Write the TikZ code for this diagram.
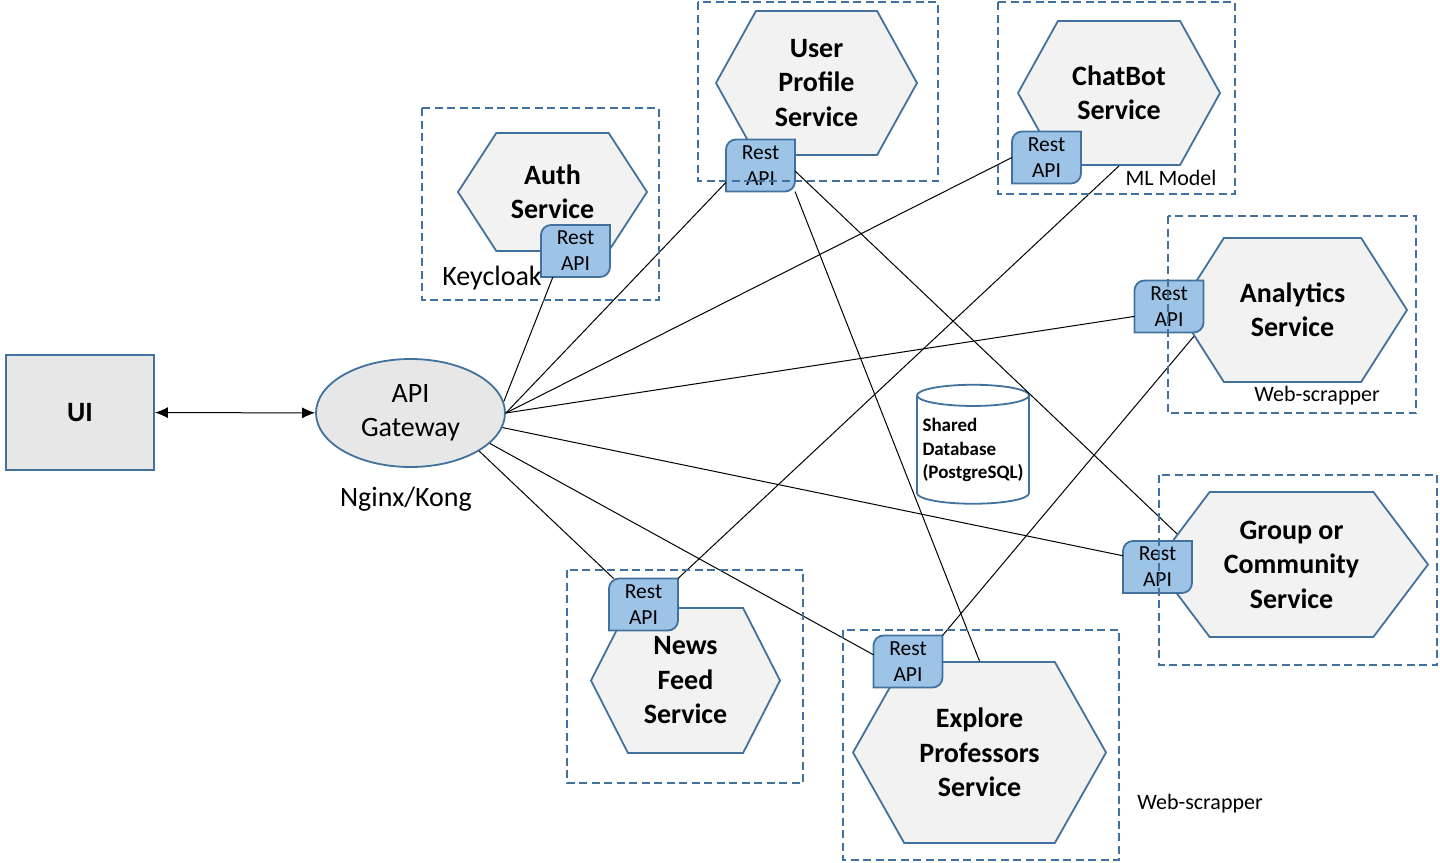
\documentclass[tikz,border=0pt]{standalone}
\usepackage{fontspec}
\setmainfont{Carlito}
\usetikzlibrary{arrows.meta,positioning,shapes.geometric,shapes.symbols}

\definecolor{edgeblue}{RGB}{65,113,156}
\definecolor{hexgray}{RGB}{242,242,242}
\definecolor{boxgray}{RGB}{231,231,231}
\definecolor{apiblue}{RGB}{157,195,230}

% Rest API tab: name, x, y (two rounded corners)
\newcommand{\restapi}[3]{%
  \draw[apibox] ({#2},{#3-26}) -- ({#2+34.5},{#3-26}) -- ({#2+34.5},{#3})
    [rounded corners=10pt] -- ({#2+34.5},{#3+26}) -- ({#2},{#3+26})
    [sharp corners] -- ({#2-34.5},{#3+26}) -- ({#2-34.5},{#3})
    [rounded corners=10pt] -- ({#2-34.5},{#3-26}) -- cycle;
  \node[apitext] (#1) at ({#2},{#3}) {Rest\\API};}

\begin{document}
\begin{tikzpicture}[x=1pt,y=-1pt,
    hexa/.style={signal, signal to=east and west, draw=edgeblue, line width=1.8pt,
      fill=hexgray, inner sep=0pt, align=center,
      font=\fontsize{28pt}{34.5pt}\selectfont\bfseries},
    apibox/.style={draw=edgeblue, line width=1.8pt, fill=apiblue},
    apitext/.style={minimum width=69pt, minimum height=52pt, inner sep=0pt,
      outer sep=0pt, align=center, font=\fontsize{21.5pt}{26pt}\selectfont},
    group/.style={draw=edgeblue, line width=1.8pt, dash pattern=on 8pt off 4.5pt},
    lbl/.style={inner sep=0pt, font=\fontsize{28pt}{34pt}\selectfont},
    note/.style={inner sep=0pt, font=\fontsize{22pt}{26pt}\selectfont},
    link/.style={line width=1pt},
  ]
  \useasboundingbox (0,0) rectangle (1440,862);

  % client and gateway
  \node[draw=edgeblue, fill=boxgray, line width=1.8pt, minimum width=148pt,
    minimum height=115pt, font=\fontsize{28pt}{34pt}\selectfont\bfseries] (ui) at (80,412.5) {UI};
  \node[ellipse, draw=edgeblue, fill=boxgray, line width=1.8pt, minimum width=189pt,
    minimum height=108pt, inner sep=0pt, align=center,
    font=\fontsize{28pt}{34.5pt}\selectfont] (gw) at (410.5,413) {\raisebox{-3pt}{API}\\\raisebox{-3pt}{Gateway}};
  \node[lbl] (kong) at (406,499) {Nginx/Kong};
  \draw[{Latex[length=13pt,width=11pt]}-{Latex[length=13pt,width=11pt]}, link] (ui) -- (gw);

  % services
  \node[hexa, minimum width=189pt, minimum height=118pt, signal pointer angle=114] (auth) at (552.5,192) {Auth\\Service};
  \node[hexa, minimum width=201pt, minimum height=144pt, signal pointer angle=122] (prof) at (816.5,83) {User\\Profile\\Service};
  \node[hexa, minimum width=202pt, minimum height=144pt, signal pointer angle=122] (chat) at (1119,93) {ChatBot\\Service};
  \node[hexa, minimum width=229pt, minimum height=144pt, signal pointer angle=115] (anl) at (1292.5,310) {Analytics\\Service};
  \node[hexa, minimum width=273pt, minimum height=145pt, signal pointer angle=106] (grp) at (1291.5,564.5) {Group or\\Community\\Service};
  \node[hexa, minimum width=189pt, minimum height=145pt, signal pointer angle=126] (news) at (685.5,680.5) {News\\Feed\\Service};
  \node[hexa, minimum width=253pt, minimum height=181pt, signal pointer angle=121] (expl) at (979.5,752.5) {Explore\\Professors\\Service};

  \restapi{authapi}{575.5}{251}
  \restapi{profapi}{760.5}{165.5}
  \restapi{chatapi}{1046.5}{157.5}
  \restapi{anlapi}{1169}{306.5}
  \restapi{grpapi}{1157.5}{567}
  \restapi{newsapi}{643.5}{604.5}
  \restapi{explapi}{908}{661.5}

  \node[cylinder, shape border rotate=90, aspect=0.21, draw=edgeblue, fill=white,
    line width=1.8pt, minimum width=112pt, minimum height=119pt, inner sep=0pt,
    align=left, font=\fontsize{19pt}{23.5pt}\selectfont\bfseries] (db) at (973,450)
    {Shared\\Database\\(PostgreSQL)};

  % connections
  \draw[link] (gw.7) -- (authapi.-131);
  \draw[link] (gw.0) -- (profapi.-154);
  \draw[link] (gw.0) -- (chatapi.west);
  \draw[link] (gw.0) -- (anlapi.-164);
  \draw[link] (gw.-9) -- (grpapi.162);
  \draw[link] (gw.-21) -- (explapi.169);
  \draw[link] (gw.-29) -- (newsapi.139);
  \draw[link] (profapi.-9) -- (grp.165);
  \draw[link] (profapi.south east) -- (expl.north);
  \draw[link] (chat.south) -- (newsapi.north east);
  \draw[link] (anl.-165) -- (explapi.north east);

  % service boundaries
  \draw[group] (422,108) rectangle (659,300);
  \draw[group] (698,2) rectangle (938,181);
  \draw[group] (998,2) rectangle (1235,194);
  \draw[group] (1168,216) rectangle (1416,413);
  \draw[group] (1159,475) rectangle (1437,665);
  \draw[group] (567,570) rectangle (803,783);
  \draw[group] (843,630) rectangle (1119,860);

  \node[lbl] (keycloak) at (492,278) {Keycloak};
  \node[note] (mlmodel) at (1171,178) {ML Model};
  \node[note] (scrapeA) at (1317,396) {Web-scrapper};
  \node[note] (scrapeB) at (1200,804) {Web-scrapper};
\end{tikzpicture}
\end{document}
